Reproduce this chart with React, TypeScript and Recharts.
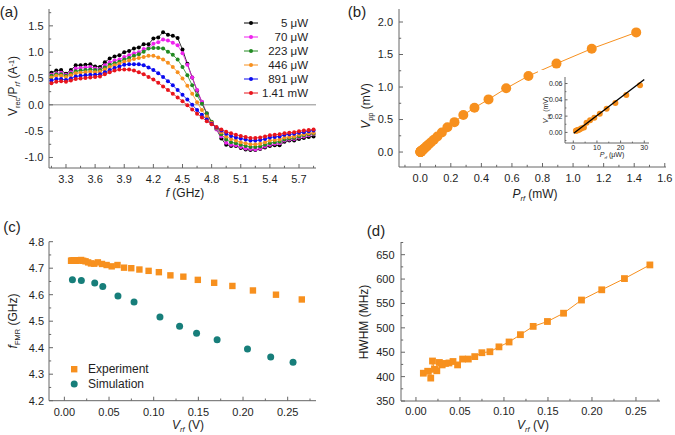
import React from 'react'
import { LineChart, Line, ComposedChart, Scatter, XAxis, YAxis, ReferenceLine } from 'recharts'

const FONT = '"Liberation Sans", Arial, Helvetica, sans-serif'
const AXIS = '#666666'
const INK = '#1e1e1e'
const ORANGE = '#f7901e'
const TEAL = '#177e7a'

// ---- (a) V_rec/P_rf spectra (A^-1) vs f (GHz)
const freqGHz = [3.15, 3.2, 3.25, 3.3, 3.35, 3.4, 3.45, 3.5, 3.55, 3.6, 3.65, 3.7, 3.75, 3.8, 3.85, 3.9, 3.95, 4.0, 4.05, 4.1, 4.15, 4.2, 4.25, 4.3, 4.35, 4.4, 4.45, 4.5, 4.55, 4.6, 4.65, 4.7, 4.75, 4.8, 4.85, 4.9, 4.95, 5.0, 5.05, 5.1, 5.15, 5.2, 5.25, 5.3, 5.35, 5.4, 5.45, 5.5, 5.55, 5.6, 5.65, 5.7, 5.75, 5.8, 5.85]
const v5uW = [0.61, 0.65, 0.66, 0.59, 0.66, 0.75, 0.75, 0.76, 0.77, 0.73, 0.72, 0.81, 0.88, 0.92, 0.94, 1.0, 1.02, 1.07, 1.09, 1.15, 1.15, 1.26, 1.28, 1.38, 1.33, 1.31, 1.27, 1.05, 0.78, 0.52, 0.27, 0.05, -0.17, -0.33, -0.46, -0.64, -0.76, -0.78, -0.78, -0.82, -0.85, -0.86, -0.86, -0.84, -0.81, -0.78, -0.77, -0.77, -0.7, -0.68, -0.68, -0.65, -0.63, -0.61, -0.6]
const v70uW = [0.57, 0.6, 0.61, 0.57, 0.62, 0.69, 0.7, 0.71, 0.72, 0.69, 0.68, 0.75, 0.81, 0.84, 0.86, 0.91, 0.94, 0.98, 1.0, 1.06, 1.08, 1.16, 1.19, 1.24, 1.22, 1.18, 1.13, 0.98, 0.76, 0.52, 0.28, 0.06, -0.16, -0.33, -0.47, -0.6, -0.72, -0.76, -0.77, -0.8, -0.83, -0.84, -0.85, -0.83, -0.79, -0.76, -0.74, -0.73, -0.68, -0.66, -0.65, -0.62, -0.6, -0.58, -0.56]
const v223uW = [0.55, 0.58, 0.58, 0.55, 0.59, 0.64, 0.65, 0.66, 0.67, 0.66, 0.66, 0.71, 0.76, 0.79, 0.82, 0.86, 0.89, 0.93, 0.96, 1.01, 1.07, 1.08, 1.08, 1.07, 1.01, 0.95, 0.86, 0.72, 0.56, 0.37, 0.18, 0.02, -0.16, -0.32, -0.45, -0.56, -0.66, -0.71, -0.73, -0.76, -0.78, -0.8, -0.8, -0.79, -0.76, -0.73, -0.71, -0.7, -0.66, -0.64, -0.63, -0.6, -0.58, -0.56, -0.55]
const v446uW = [0.52, 0.55, 0.55, 0.53, 0.56, 0.6, 0.61, 0.62, 0.63, 0.62, 0.63, 0.67, 0.72, 0.75, 0.78, 0.82, 0.84, 0.87, 0.89, 0.91, 0.93, 0.93, 0.9, 0.86, 0.8, 0.72, 0.62, 0.5, 0.36, 0.21, 0.05, -0.1, -0.22, -0.34, -0.44, -0.52, -0.6, -0.65, -0.68, -0.71, -0.73, -0.75, -0.75, -0.74, -0.71, -0.68, -0.67, -0.66, -0.62, -0.61, -0.6, -0.57, -0.56, -0.54, -0.53]
const v891uW = [0.46, 0.49, 0.49, 0.47, 0.5, 0.54, 0.55, 0.56, 0.57, 0.57, 0.58, 0.62, 0.66, 0.7, 0.73, 0.76, 0.77, 0.77, 0.77, 0.75, 0.71, 0.66, 0.6, 0.53, 0.45, 0.37, 0.28, 0.19, 0.1, 0.0, -0.1, -0.19, -0.28, -0.36, -0.43, -0.49, -0.55, -0.59, -0.62, -0.64, -0.66, -0.68, -0.68, -0.67, -0.65, -0.62, -0.61, -0.6, -0.57, -0.56, -0.55, -0.53, -0.52, -0.5, -0.49]
const v141mW = [0.41, 0.44, 0.45, 0.44, 0.46, 0.49, 0.5, 0.51, 0.52, 0.53, 0.54, 0.58, 0.62, 0.65, 0.67, 0.67, 0.67, 0.65, 0.62, 0.58, 0.53, 0.48, 0.42, 0.35, 0.28, 0.21, 0.14, 0.07, -0.01, -0.09, -0.17, -0.24, -0.31, -0.37, -0.42, -0.47, -0.51, -0.54, -0.57, -0.59, -0.61, -0.63, -0.63, -0.62, -0.6, -0.58, -0.57, -0.56, -0.54, -0.53, -0.52, -0.5, -0.49, -0.48, -0.47]
const spectrumLabels = ['5 μW', '70 μW', '223 μW', '446 μW', '891 μW', '1.41 mW']
const fTicks = [3.3, 3.6, 3.9, 4.2, 4.5, 4.8, 5.1, 5.4, 5.7]
const ratioTicks = [-1.0, -0.5, 0.0, 0.5, 1.0, 1.5]

// ---- (b) V_pp (mV) vs P_rf (mW)
const pRfMw = [0.0011, 0.0014, 0.0018, 0.0022, 0.0028, 0.0035, 0.0045, 0.0056, 0.0071, 0.0089, 0.0112, 0.0141, 0.0178, 0.0224, 0.0282, 0.0355, 0.0447, 0.0562, 0.0708, 0.0891, 0.1122, 0.1413, 0.1778, 0.2239, 0.2818, 0.3548, 0.4467, 0.5623, 0.7079, 0.8913, 1.122, 1.413]
const vPpMv = [0.002, 0.002, 0.003, 0.003, 0.004, 0.005, 0.006, 0.012, 0.015, 0.018, 0.023, 0.029, 0.036, 0.046, 0.058, 0.075, 0.095, 0.12, 0.15, 0.19, 0.24, 0.3, 0.38, 0.46, 0.57, 0.68, 0.81, 0.98, 1.17, 1.36, 1.59, 1.84]
const fitPuW = [0.2, 30]
const fitVMv = [-0.001, 0.065]
const pTicks = [0.0, 0.2, 0.4, 0.6, 0.8, 1.0, 1.2, 1.4, 1.6]
const vppTicks = [0.0, 0.5, 1.0, 1.5, 2.0]
const insetPTicks = [0, 10, 20, 30]
const insetVTicks = [0.0, 0.02, 0.04, 0.06]

// ---- (c) f_FMR (GHz) vs V_rf (V)
const vRfExp = [0.0075, 0.0084, 0.0094, 0.0106, 0.0119, 0.0133, 0.015, 0.0168, 0.0188, 0.0211, 0.0237, 0.0266, 0.0298, 0.0335, 0.0375, 0.0421, 0.0473, 0.053, 0.0595, 0.0668, 0.0749, 0.084, 0.0943, 0.1058, 0.1187, 0.1332, 0.1494, 0.1677, 0.1881, 0.2111, 0.2369, 0.2658]
const fFmrExp = [4.728, 4.729, 4.728, 4.73, 4.729, 4.728, 4.73, 4.729, 4.731, 4.728, 4.726, 4.722, 4.718, 4.717, 4.722, 4.716, 4.712, 4.707, 4.712, 4.702, 4.7, 4.695, 4.69, 4.685, 4.673, 4.668, 4.656, 4.645, 4.633, 4.616, 4.6, 4.582]
const vRfSim = [0.009, 0.019, 0.034, 0.043, 0.06, 0.078, 0.107, 0.129, 0.148, 0.171, 0.205, 0.231, 0.256]
const fFmrSim = [4.656, 4.654, 4.644, 4.631, 4.595, 4.572, 4.516, 4.481, 4.455, 4.43, 4.395, 4.365, 4.345]
const vRfTicks = [0.0, 0.05, 0.1, 0.15, 0.2, 0.25]
const fFmrTicks = [4.2, 4.3, 4.4, 4.5, 4.6, 4.7, 4.8]

// ---- (d) HWHM (MHz) vs V_rf (V)
const vRfHw = [0.0084, 0.0133, 0.0168, 0.0188, 0.0211, 0.0237, 0.0266, 0.0298, 0.0335, 0.0375, 0.0421, 0.0473, 0.053, 0.0595, 0.0668, 0.0749, 0.084, 0.0943, 0.1058, 0.1187, 0.1332, 0.1494, 0.1677, 0.1881, 0.2111, 0.2369, 0.2658]
const hwhmMHz = [407, 411, 397, 432, 415, 412, 429, 424, 427, 428, 431, 424, 436, 436, 441, 449, 451, 461, 471, 486, 503, 513, 530, 557, 578, 601, 629]
const hwhmTicks = [350, 400, 450, 500, 550, 600, 650]

const spectrumColors = ['#000000', '#ee22ee', '#228a22', '#f7901e', '#0a0af0', '#e8141c']
const spectra = [v5uW, v70uW, v223uW, v446uW, v891uW, v141mW]
const spectrumRows = freqGHz.map((f, i) => {
  const row: Record<string, number> = { f }
  spectra.forEach((s, k) => (row['s' + k] = s[i]))
  return row
})
const pts = (xs: number[], ys: number[]) => xs.map((x, i) => ({ x, y: ys[i] }))
const powerPts = pts(pRfMw, vPpMv)
const insetPts = powerPts.filter(p => p.x <= 0.03).map(p => ({ x: p.x * 1000, y: p.y }))
const fitPts = pts(fitPuW, fitVMv)

type Side = 'bottom' | 'left' | 'top' | 'right'

// major + half-step minor ticks inside the domain
function withMinors(majors: number[], lo: number, hi: number) {
  const step = majors[1] - majors[0]
  const out: number[] = []
  for (let k = -2; k <= (majors.length - 1) * 2 + 2; k++) {
    const v = Math.round((majors[0] + (k * step) / 2) * 1e6) / 1e6
    if (v >= lo - 1e-9 && v <= hi + 1e-9) out.push(v)
  }
  return out
}

function tickFn(side: Side, majors: number[], fmt: ((v: number) => string) | null, fs: number, gap: number, len = 4) {
  return (props: any) => {
    const { x, y, payload } = props
    const v = payload.value
    const major = majors.some(m => Math.abs(m - v) < 1e-7)
    const L = major ? len : len * 0.55
    const label = major && fmt ? fmt(v) : null
    if (side === 'bottom')
      return (
        <g>
          <line x1={x} y1={y} x2={x} y2={y - L} stroke={AXIS} />
          {label && <text x={x} y={y + gap + fs * 0.8} textAnchor="middle" fontSize={fs} fontFamily={FONT} fill={INK}>{label}</text>}
        </g>
      )
    if (side === 'left')
      return (
        <g>
          <line x1={x} y1={y} x2={x + L} y2={y} stroke={AXIS} />
          {label && <text x={x - gap} y={y + fs * 0.36} textAnchor="end" fontSize={fs} fontFamily={FONT} fill={INK}>{label}</text>}
        </g>
      )
    if (side === 'top') return <line x1={x} y1={y} x2={x} y2={y + L} stroke={AXIS} />
    return <line x1={x} y1={y} x2={x - L} y2={y} stroke={AXIS} />
  }
}

interface FrameCfg {
  xKey: string
  yKey?: string
  xDomain: [number, number]
  yDomain: [number, number]
  xMajors: number[]
  yMajors: number[]
  xFmt: (v: number) => string
  yFmt: (v: number) => string
  xHeight: number
  yWidth: number
  fs: number
  gapX: number
  gapY: number
  len?: number
}

function frameAxes(c: FrameCfg) {
  const xt = withMinors(c.xMajors, c.xDomain[0], c.xDomain[1])
  const yt = withMinors(c.yMajors, c.yDomain[0], c.yDomain[1])
  const common = { type: 'number' as const, allowDataOverflow: true, interval: 0 as const, tickSize: 0, tickMargin: 0, tickLine: false, axisLine: { stroke: AXIS } }
  return [
    <XAxis key="xb" {...common} dataKey={c.xKey} domain={c.xDomain} ticks={xt} height={c.xHeight} tick={tickFn('bottom', c.xMajors, c.xFmt, c.fs, c.gapX, c.len)} />,
    <XAxis key="xt" {...common} xAxisId="top" orientation="top" domain={c.xDomain} ticks={xt} height={0} tick={tickFn('top', c.xMajors, null, c.fs, 0, c.len)} />,
    <YAxis key="yl" {...common} dataKey={c.yKey} domain={c.yDomain} ticks={yt} width={c.yWidth} tick={tickFn('left', c.yMajors, c.yFmt, c.fs, c.gapY, c.len)} />,
    <YAxis key="yr" {...common} yAxisId="right" orientation="right" domain={c.yDomain} ticks={yt} width={0} tick={tickFn('right', c.yMajors, null, c.fs, 0, c.len)} />,
  ]
}

const Sub = ({ children }: { children: React.ReactNode }) => (
  <span style={{ fontSize: '0.62em', position: 'relative', top: '0.35em' }}>{children}</span>
)
const Sup = ({ children }: { children: React.ReactNode }) => (
  <span style={{ fontSize: '0.62em', position: 'relative', top: '-0.45em' }}>{children}</span>
)

function Txt({ x, y, size = 12, rotate = false, children }: { x: number; y: number; size?: number; rotate?: boolean; children: React.ReactNode }) {
  return (
    <div
      style={{
        position: 'absolute',
        left: x,
        top: y,
        transform: `translate(-50%, -50%)${rotate ? ' rotate(-90deg)' : ''}`,
        fontSize: size,
        whiteSpace: 'nowrap',
        lineHeight: 1,
        color: INK,
      }}
    >
      {children}
    </div>
  )
}

const Box = ({ left, top, children }: { left: number; top: number; children: React.ReactNode }) => (
  <div style={{ position: 'absolute', left, top }}>{children}</div>
)

const fix = (d: number) => (v: number) => v.toFixed(d)

export default function App() {
  return (
    <div style={{ position: 'absolute', left: 0, top: 0, width: 675, height: 435, background: '#fff', fontFamily: FONT, overflow: 'hidden' }}>
      {/* (a) */}
      <Box left={0} top={0}>
        <LineChart width={330} height={215} data={spectrumRows} margin={{ top: 9, right: 14, bottom: 0, left: 0 }}>
          {frameAxes({ xKey: 'f', xDomain: [3.125, 5.875], yDomain: [-1.2, 1.82], xMajors: fTicks, yMajors: ratioTicks, xFmt: fix(1), yFmt: fix(1), xHeight: 47, yWidth: 49, fs: 11, gapX: 6, gapY: 5.5 })}
          <ReferenceLine y={0} stroke="#8c8c8c" strokeWidth={1} />
          {spectra.map((_, k) => (
            <Line
              key={k}
              dataKey={'s' + k}
              stroke={spectrumColors[k]}
              strokeWidth={0.8}
              dot={{ r: 2, fill: spectrumColors[k], stroke: 'none' }}
              isAnimationActive={false}
            />
          ))}
        </LineChart>
      </Box>
      <div style={{ position: 'absolute', left: 244, top: 15.7 }}>
        {spectrumLabels.map((name, k) => (
          <div key={name} style={{ display: 'flex', alignItems: 'center', height: 14 }}>
            <svg width={14} height={8}>
              <line x1={0} y1={4} x2={14} y2={4} stroke={spectrumColors[k]} strokeWidth={1} />
              <circle cx={7} cy={4} r={2} fill={spectrumColors[k]} />
            </svg>
            <span style={{ width: 50, textAlign: 'right', fontSize: 11.5, color: INK }}>{name}</span>
          </div>
        ))}
      </div>
      <Txt x={9} y={11} size={15}>(a)</Txt>
      <Txt x={13} y={86} rotate>
        V<Sub>rec</Sub>/P<Sub><i>rf</i></Sub> (A<Sup>-1</Sup>)
      </Txt>
      <Txt x={185} y={193}>
        <i>f</i> (GHz)
      </Txt>

      {/* (b) */}
      <Box left={330} top={0}>
        <ComposedChart width={345} height={215} margin={{ top: 9, right: 9, bottom: 0, left: 0 }}>
          {frameAxes({ xKey: 'x', yKey: 'y', xDomain: [-0.139, 1.608], yDomain: [-0.23, 2.2], xMajors: pTicks, yMajors: vppTicks, xFmt: fix(1), yFmt: fix(1), xHeight: 48, yWidth: 69, fs: 11, gapX: 6, gapY: 6 })}
          <Scatter
            data={powerPts}
            line={{ stroke: ORANGE, strokeWidth: 1 }}
            shape={(p: any) => <circle cx={p.cx} cy={p.cy} r={5} fill={ORANGE} />}
            isAnimationActive={false}
          />
        </ComposedChart>
      </Box>
      <Box left={538} top={70}>
        <ComposedChart width={120} height={90} margin={{ top: 7, right: 9, bottom: 0, left: 0 }} style={{ background: '#fff' }}>
          {frameAxes({ xKey: 'x', yKey: 'y', xDomain: [-3.5, 32], yDomain: [-0.013, 0.068], xMajors: insetPTicks, yMajors: insetVTicks, xFmt: fix(0), yFmt: fix(2), xHeight: 17, yWidth: 27, fs: 7, gapX: 1.5, gapY: 2.5, len: 2.5 })}
          <Scatter data={insetPts} shape={(p: any) => <circle cx={p.cx} cy={p.cy} r={3} fill={ORANGE} />} isAnimationActive={false} />
          <Scatter data={fitPts} line={{ stroke: '#000', strokeWidth: 1.3 }} shape={() => <g />} isAnimationActive={false} />
        </ComposedChart>
      </Box>
      <Txt x={357} y={11} size={15}>(b)</Txt>
      <Txt x={366} y={106} rotate>
        <i>V</i>
        <Sub>pp</Sub> (mV)
      </Txt>
      <Txt x={535} y={194}>
        <i>P</i>
        <Sub><i>rf</i></Sub> (mW)
      </Txt>
      <Txt x={546} y={110} size={7} rotate>
        <i>V</i>
        <Sub>pp</Sub> (mV)
      </Txt>
      <Txt x={612} y={155} size={7}>
        <i>P</i>
        <Sub><i>rf</i></Sub> (μW)
      </Txt>

      {/* (c) */}
      <Box left={0} top={215}>
        <ComposedChart width={330} height={220} margin={{ top: 26.7, right: 14, bottom: 0, left: 0 }}>
          {frameAxes({ xKey: 'x', yKey: 'y', xDomain: [-0.0172, 0.2817], yDomain: [4.2, 4.8], xMajors: vRfTicks, yMajors: fFmrTicks, xFmt: fix(2), yFmt: fix(1), xHeight: 34.3, yWidth: 49, fs: 11, gapX: 6, gapY: 5 })}
          <Scatter
            data={pts(vRfExp, fFmrExp)}
            shape={(p: any) => <rect x={p.cx - 3.2} y={p.cy - 3.2} width={6.4} height={6.4} fill={ORANGE} />}
            isAnimationActive={false}
          />
          <Scatter
            data={pts(vRfSim, fFmrSim)}
            shape={(p: any) => <circle cx={p.cx} cy={p.cy} r={3.5} fill={TEAL} />}
            isAnimationActive={false}
          />
        </ComposedChart>
      </Box>
      <div style={{ position: 'absolute', left: 70, top: 362, fontSize: 12, color: INK }}>
        <div style={{ display: 'flex', alignItems: 'center', height: 14.5 }}>
          <svg width={18} height={8}>
            <rect x={1} y={1} width={6.4} height={6.4} fill={ORANGE} />
          </svg>
          Experiment
        </div>
        <div style={{ display: 'flex', alignItems: 'center', height: 14.5 }}>
          <svg width={18} height={8}>
            <circle cx={4.2} cy={4} r={3.5} fill={TEAL} />
          </svg>
          Simulation
        </div>
      </div>
      <Txt x={12} y={226} size={15}>(c)</Txt>
      <Txt x={13} y={321} rotate>
        <i>f</i>
        <Sub>FMR</Sub> (GHz)
      </Txt>
      <Txt x={188} y={425}>
        <i>V</i>
        <Sub><i>rf</i></Sub> (V)
      </Txt>

      {/* (d) */}
      <Box left={330} top={215}>
        <ComposedChart width={345} height={220} margin={{ top: 27, right: 15, bottom: 0, left: 0 }}>
          {frameAxes({ xKey: 'x', yKey: 'y', xDomain: [-0.017, 0.2773], yDomain: [350, 676], xMajors: vRfTicks, yMajors: hwhmTicks, xFmt: fix(2), yFmt: fix(0), xHeight: 34, yWidth: 71, fs: 11, gapX: 5.5, gapY: 6.5 })}
          <Scatter
            data={pts(vRfHw, hwhmMHz)}
            line={{ stroke: ORANGE, strokeWidth: 1 }}
            shape={(p: any) => <rect x={p.cx - 3.4} y={p.cy - 3.4} width={6.8} height={6.8} fill={ORANGE} />}
            isAnimationActive={false}
          />
        </ComposedChart>
      </Box>
      <Txt x={376} y={230} size={15}>(d)</Txt>
      <Txt x={364} y={322} rotate>
        HWHM (MHz)
      </Txt>
      <Txt x={533} y={425}>
        <i>V</i>
        <Sub><i>rf</i></Sub> (V)
      </Txt>
    </div>
  )
}
